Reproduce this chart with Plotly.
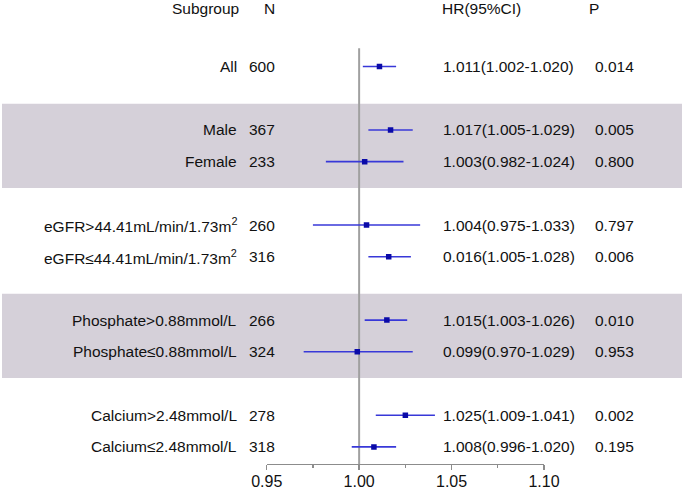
import plotly.graph_objects as go

# ---------------- data ----------------
subgroups = [
    "All",
    "Male",
    "Female",
    "eGFR>44.41mL/min/1.73m<sup>2</sup>",
    "eGFR≤44.41mL/min/1.73m<sup>2</sup>",
    "Phosphate>0.88mmol/L",
    "Phosphate≤0.88mmol/L",
    "Calcium>2.48mmol/L",
    "Calcium≤2.48mmol/L",
]
group_sizes = [1, 2, 2, 2, 2]
shaded_groups = [1, 3]
n_values = [600, 367, 233, 260, 316, 266, 324, 278, 318]
hr = [1.011, 1.017, 1.003, 1.004, 1.016, 1.015, 0.999, 1.025, 1.008]
ci_low = [1.002, 1.005, 0.982, 0.975, 1.005, 1.003, 0.970, 1.009, 0.996]
ci_high = [1.020, 1.029, 1.024, 1.033, 1.028, 1.026, 1.029, 1.041, 1.020]
hr_labels = [
    "1.011(1.002-1.020)",
    "1.017(1.005-1.029)",
    "1.003(0.982-1.024)",
    "1.004(0.975-1.033)",
    "0.016(1.005-1.028)",
    "1.015(1.003-1.026)",
    "0.099(0.970-1.029)",
    "1.025(1.009-1.041)",
    "1.008(0.996-1.020)",
]
p_values = ["0.014", "0.005", "0.800", "0.797", "0.006", "0.010", "0.953", "0.002", "0.195"]
x_ticks = [0.95, 1.00, 1.05, 1.10]
x_minor_ticks = [0.975, 1.025, 1.075]
headers = ["Subgroup", "N", "HR(95%CI)", "P"]

# ---------------- layout helpers ----------------
W, H = 685, 490
FONT = "Liberation Sans, Arial, sans-serif"
TXT = "#111111"

rows = []
group_spans = []
pos = 1
for size in group_sizes:
    start = pos
    for _ in range(size):
        rows.append(pos)
        pos += 1
    group_spans.append((start, pos - 1))
    pos += 1

y_top, y_bottom = -1.10, 13.54
header_y = -0.82

def px(x):
    return x / W

fig = go.Figure()

fig.add_trace(go.Scatter(
    x=hr, y=rows, mode="markers",
    marker=dict(symbol="square", size=5.5, color="#0a0aa8", line=dict(width=0)),
    error_x=dict(type="data", symmetric=False,
                 array=[h - m for m, h in zip(hr, ci_high)],
                 arrayminus=[m - l for m, l in zip(hr, ci_low)],
                 color="#3838d8", thickness=1.6, width=0),
    hoverinfo="skip", showlegend=False,
))

shapes = []
for gi in shaded_groups:
    s, e = group_spans[gi]
    shapes.append(dict(type="rect", xref="paper", yref="y",
                       x0=px(2), x1=px(682), y0=s - 0.83, y1=e + 0.83,
                       fillcolor="#d5d0d9", line=dict(width=0), layer="below"))
shapes.append(dict(type="line", xref="x", yref="y", x0=1.0, x1=1.0,
                   y0=0.42, y1=y_bottom, line=dict(color="#a0a0a0", width=2),
                   layer="below"))

annotations = []
def add_text(text, x, y, anchor):
    annotations.append(dict(text=text, x=px(x), y=y, xref="paper", yref="y",
                            xanchor=anchor, yanchor="middle", showarrow=False,
                            font=dict(family=FONT, size=15.5, color=TXT)))

add_text(headers[0], 241, header_y, "right")
add_text(headers[1], 277, header_y, "right")
add_text(headers[2], 440, header_y, "left")
add_text(headers[3], 587, header_y, "left")

for lab, n, hl, p, y in zip(subgroups, n_values, hr_labels, p_values, rows):
    add_text(lab, 239, y, "right")
    add_text(str(n), 277, y, "right")
    add_text(hl, 441, y, "left")
    add_text(p, 593, y, "left")

fig.update_layout(
    width=W, height=H, autosize=False,
    margin=dict(l=0, r=0, t=0, b=0, pad=0, autoexpand=False),
    paper_bgcolor="white", plot_bgcolor="white",
    shapes=shapes, annotations=annotations,
    showlegend=False,
    xaxis=dict(domain=[266.7 / W, 544 / W], range=[0.95, 1.10],
               showgrid=False, zeroline=False, automargin=False,
               showline=True, linecolor="#8c8c8c", linewidth=1.3,
               ticks="outside", ticklen=5, tickwidth=1.3, tickcolor="#8c8c8c",
               tickvals=x_ticks, ticktext=[f"{v:.2f}" for v in x_ticks],
               tickfont=dict(family=FONT, size=16, color=TXT),
               ticklabelstandoff=-3,
               minor=dict(tickvals=x_minor_ticks, ticks="outside", ticklen=3,
                          tickwidth=1.3, tickcolor="#8c8c8c", showgrid=False)),
    yaxis=dict(domain=[(H - 464) / H, 1], range=[y_bottom, y_top],
               visible=False, showgrid=False, zeroline=False, automargin=False),
)

# remove the browser's default 8px body margin so the 685x490 figure fills the window
page_fix = "document.body.style.margin='0px'; document.body.style.overflow='hidden';"

fig.write_html("out.html", post_script=page_fix,
               config={"displayModeBar": False, "staticPlot": True})
